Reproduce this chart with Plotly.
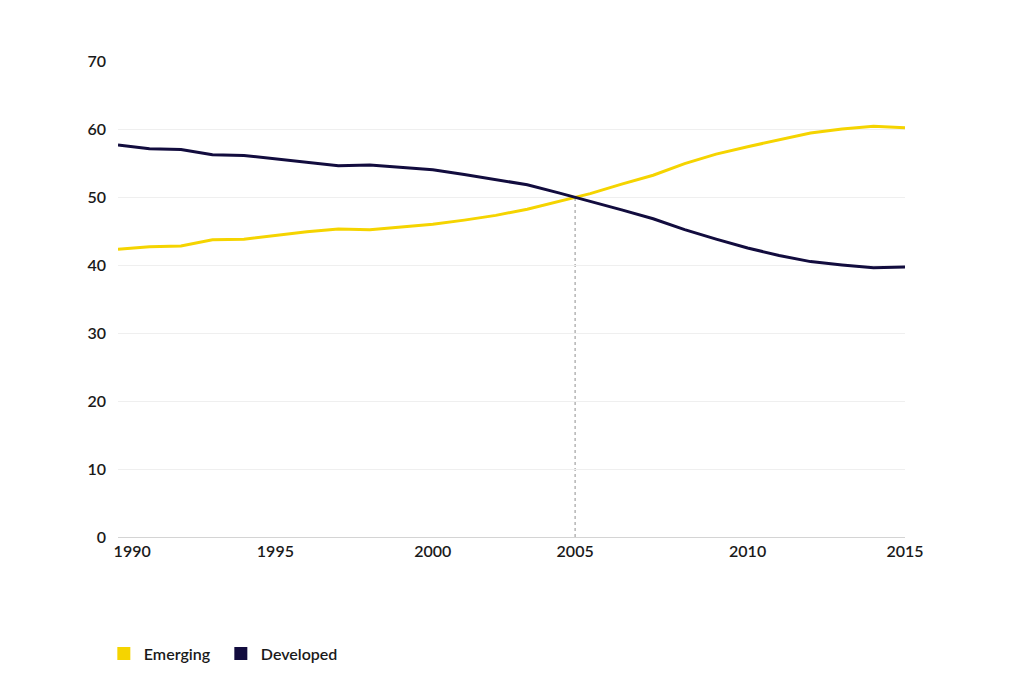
import numpy as np
import plotly.graph_objects as go

years = list(range(1990, 2016))
developed = [57.65, 57.1, 57.0, 56.2, 56.1, 55.6, 55.1, 54.6, 54.7, 54.3,
             54.0, 53.3, 52.6, 51.8, 50.6, 49.4, 48.1, 46.8, 45.2, 43.8,
             42.5, 41.4, 40.5, 40.0, 39.6, 39.7]
emerging = [42.3, 42.7, 42.8, 43.7, 43.8, 44.4, 44.9, 45.3, 45.2, 45.6,
            46.0, 46.6, 47.3, 48.2, 49.4, 50.5, 51.9, 53.2, 54.9, 56.3,
            57.4, 58.4, 59.4, 60.0, 60.4, 60.2]
series_names = ["Emerging", "Developed"]
colors = {"Emerging": "#F5D400", "Developed": "#120C3E"}
tick_labels = ["1990", "1995", "2000", "2005", "2010", "2015"]

# crossover point computed from the data
d = np.array(developed) - np.array(emerging)
i = int(np.where(np.sign(d[:-1]) != np.sign(d[1:]))[0][0])
frac = d[i] / (d[i] - d[i + 1])
cross_x = years[i] + frac
cross_y = developed[i] + frac * (developed[i + 1] - developed[i])

FONT = "Lato"

fig = go.Figure()
for name, vals in (("Emerging", emerging), ("Developed", developed)):
    fig.add_trace(go.Scatter(x=years, y=vals, mode="lines", name=name,
                             line=dict(color=colors[name], width=3),
                             showlegend=False, hoverinfo="skip"))
for name in series_names:
    fig.add_trace(go.Scatter(x=[None], y=[None], mode="markers", name=name,
                             marker=dict(symbol="square", size=13, color=colors[name]),
                             showlegend=True))

fig.add_shape(type="line", xref="x", yref="y", x0=cross_x, x1=cross_x,
              y0=0, y1=cross_y, line=dict(color="#b5b5b5", width=1.5, dash="dot"),
              layer="below")

tickvals = [1990.45, 1995, 2000, cross_x, 2010, 2015]

fig.update_layout(
    width=1024, height=695,
    margin=dict(l=110, r=127, t=53, b=166),
    paper_bgcolor="white", plot_bgcolor="white",
    font=dict(family=FONT, size=16, color="#1a1a1a"),
    showlegend=True,
    legend=dict(orientation="h", x=-0.018, xanchor="left", y=-0.245, yanchor="middle",
                font=dict(family=FONT, size=16, color="#1a1a1a", weight=600),
                entrywidth=72, itemclick=False),
    xaxis=dict(range=[1990, 2015], tickvals=tickvals, ticktext=tick_labels,
               showgrid=False, zeroline=False, showline=True, linecolor="#d4d4d4",
               linewidth=1, ticks="", tickfont=dict(family=FONT, size=16, weight=600),
               fixedrange=True),
    yaxis=dict(range=[0, 70], dtick=10, showgrid=True, gridcolor="#efefef",
               gridwidth=1, zeroline=False, showline=False, ticks="",
               ticklabelstandoff=11,
               tickfont=dict(family=FONT, size=16, weight=600), fixedrange=True),
)

fig.write_html("out.html")
